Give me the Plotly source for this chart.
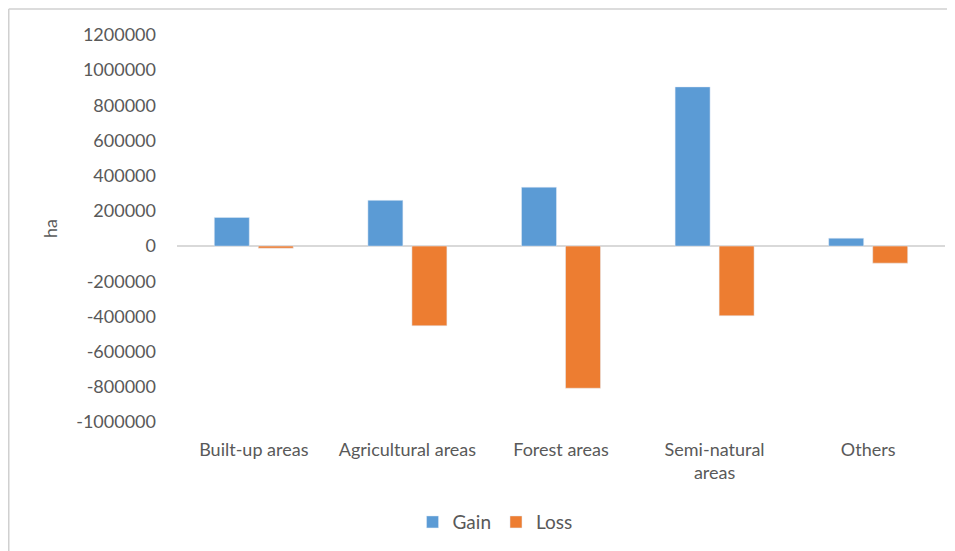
import plotly.graph_objects as go

categories = ["Built-up areas", "Agricultural areas", "Forest areas", "Semi-natural<br>areas", "Others"]
gain = [163000, 260000, 335000, 905000, 45000]
loss = [-12000, -453000, -808000, -396000, -97000]
tick_vals = list(range(-1000000, 1200001, 200000))
tick_text = [str(v) for v in tick_vals]

W, H = 955, 551
ml, mr, mt, mb = 169, 18, 27, 137
pw, ph = W - ml - mr, H - mt - mb

fig = go.Figure()
fig.add_trace(go.Bar(name="Gain", x=categories, y=gain, marker_color="#5B9BD5"))
fig.add_trace(go.Bar(name="Loss", x=categories, y=loss, marker_color="#ED7D31"))

font = dict(family="Lato, Liberation Sans, sans-serif", size=18, color="#595959")
legend_font = dict(family="Lato, Liberation Sans, sans-serif", size=19, color="#595959")

border = dict(color="#D0D0D0", width=1.5)
x_left = (0.75 - ml) / pw
y_top = (H - mb - 1) / ph

fig.update_layout(
    width=W, height=H,
    margin=dict(l=ml, r=mr, t=mt, b=mb, autoexpand=False),
    paper_bgcolor="white", plot_bgcolor="white",
    barmode="group", bargap=0.427, bargroupgap=0.205,
    font=font,
    showlegend=True,
    legend=dict(orientation="h", xref="container", yref="container",
                x=0.51, xanchor="center", y=0.067, yanchor="middle",
                font=legend_font, itemwidth=30, traceorder="normal"),
    xaxis=dict(showline=False, showgrid=False, ticks="", tickfont=font,
               ticklabelstandoff=15),
    yaxis=dict(range=[-1000000, 1200000], tickvals=tick_vals, ticktext=tick_text,
               showgrid=False, zeroline=True, zerolinecolor="#D9D9D9", zerolinewidth=1.5,
               showline=False, ticks="", tickfont=font, ticklabelstandoff=20,
               title=dict(text="ha", font=font, standoff=13)),
    shapes=[
        dict(type="line", xref="paper", yref="paper",
             x0=x_left, x1=(W + 100 - ml) / pw, y0=y_top, y1=y_top, line=border),
        dict(type="line", xref="paper", yref="paper",
             x0=x_left, x1=x_left, y0=y_top, y1=(-mb - 100) / ph, line=border),
    ],
)

fig.write_html("out.html")
